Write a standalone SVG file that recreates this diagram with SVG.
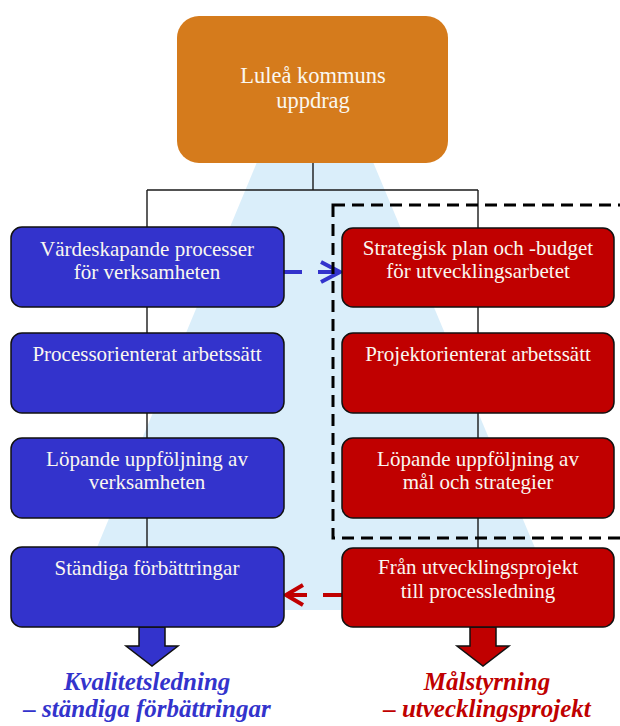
<svg xmlns="http://www.w3.org/2000/svg" width="620" height="726" viewBox="0 0 620 726">
<defs>
<style>
.t{font-family:"Liberation Serif","Times New Roman",serif;font-size:21px;fill:#FAF7F0;text-anchor:middle}
.top{font-size:22.5px}
.blue{fill:#3333CC;stroke:#111;stroke-width:1.5}
.red{fill:#C00000;stroke:#111;stroke-width:1.5}
.conn{stroke:#1a1a1a;stroke-width:1.4;fill:none}
.lbl{font-family:"Liberation Serif","Times New Roman",serif;font-size:25px;font-weight:bold;font-style:italic;text-anchor:middle}
</style>
</defs>
<rect width="620" height="726" fill="#FFFFFF"/>
<polygon points="257,162 373,162 561,610 71,610" fill="#DAEEFA"/>
<g id="connectors">
<path class="conn" d="M313,162 V190 M147,190 H478 M147,190 V547 M478,190 V548"/>
<g stroke="#3333CC" stroke-width="4" fill="none">
<path d="M284,272 H302 M318,272 H340"/>
<path d="M321,262 L340,272 L321,282" stroke-linejoin="miter"/>
</g>
<g stroke="#C00000" stroke-width="4" fill="none">
<path d="M342,595 H323 M307,595 H286"/>
<path d="M303,585 L286,595 L303,605"/>
</g>
<rect x="333" y="205" width="300" height="333" fill="none" stroke="#000" stroke-width="3" stroke-dasharray="12 7"/>
<polygon class="blue" points="139,627 165,627 165,646 178,646 152,666 126,646 139,646"/>
<polygon class="red" points="470,627 496,627 496,646 509,646 483,666 457,646 470,646"/>
</g>
<g id="top">
<rect x="177" y="16" width="271" height="147" rx="22" fill="#D57B1C"/>
<text class="t top" x="313" y="83">Luleå kommuns</text>
<text class="t top" x="313" y="108">uppdrag</text>
</g>
<g id="l1"><rect class="blue" x="11" y="227" width="273" height="80" rx="11"/>
<text class="t" x="147" y="256">Värdeskapande processer</text><text class="t" x="147" y="279">för verksamheten</text></g>
<g id="l2"><rect class="blue" x="11" y="333" width="273" height="80" rx="11"/>
<text class="t" x="147" y="361">Processorienterat arbetssätt</text></g>
<g id="l3"><rect class="blue" x="11" y="438" width="273" height="80" rx="11"/>
<text class="t" x="147" y="466">Löpande uppföljning av</text><text class="t" x="147" y="489">verksamheten</text></g>
<g id="l4"><rect class="blue" x="11" y="547" width="273" height="80" rx="11"/>
<text class="t" x="147" y="575">Ständiga förbättringar</text></g>
<g id="r1"><rect class="red" x="342" y="228" width="272" height="79" rx="11"/>
<text class="t" x="478" y="255">Strategisk plan och -budget</text><text class="t" x="478" y="278">för utvecklingsarbetet</text></g>
<g id="r2"><rect class="red" x="342" y="333" width="272" height="80" rx="11"/>
<text class="t" x="478" y="361">Projektorienterat arbetssätt</text></g>
<g id="r3"><rect class="red" x="342" y="438" width="272" height="80" rx="11"/>
<text class="t" x="478" y="466">Löpande uppföljning av</text><text class="t" x="478" y="489">mål och strategier</text></g>
<g id="r4"><rect class="red" x="342" y="548" width="272" height="79" rx="11"/>
<text class="t" x="478" y="574">Från utvecklingsprojekt</text><text class="t" x="478" y="598">till processledning</text></g>
<g id="label-left"><text class="lbl" x="147" y="690" fill="#3333CC">Kvalitetsledning</text><text class="lbl" x="147" y="717" fill="#3333CC">– ständiga förbättringar</text></g>
<g id="label-right"><text class="lbl" x="487" y="690" fill="#C00000">Målstyrning</text><text class="lbl" x="487" y="717" fill="#C00000">– utvecklingsprojekt</text></g>
</svg>
